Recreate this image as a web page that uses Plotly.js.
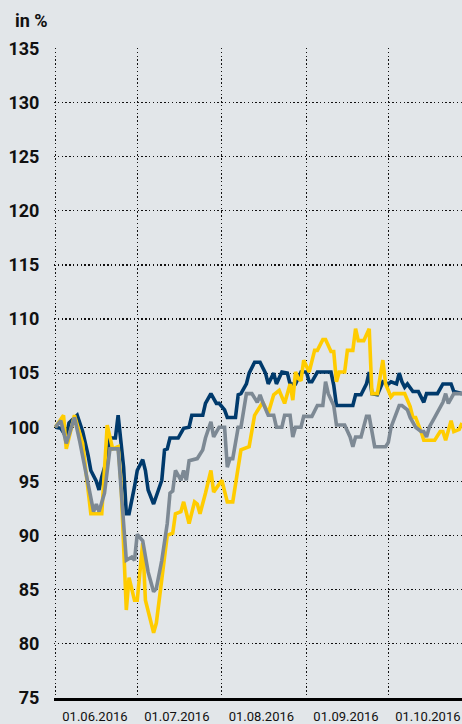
<!DOCTYPE html>
<html>
<head>
<meta charset="utf-8">
<script src="https://cdn.plot.ly/plotly-3.0.1.min.js"></script>
<style>
  html, body { margin: 0; padding: 0; background: #e2e6e9; }
  #chart { width: 462px; height: 724px; }
</style>
</head>
<body>
<div id="chart"></div>
<script>
// values, index 01.06.2016 = 100
var blueDates = ["06-01","06-03","06-05","06-06","06-09","06-11","06-13","06-14","06-16","06-17","06-18","06-20","06-21","06-23","06-24","06-26","06-27","06-28","06-30",
    "07-01","07-03","07-04","07-05","07-07","07-10","07-11","07-12","07-13","07-16","07-18","07-20","07-21","07-25","07-26","07-28","07-30","07-31",
    "08-02","08-03","08-06","08-07","08-08","08-10","08-11","08-13","08-15","08-17","08-18","08-20","08-21","08-23","08-25","08-26","08-28","08-30",
    "09-01","09-02","09-03","09-05","09-10","09-11","09-12","09-18","09-19","09-21","09-23","09-24","09-25","09-27","09-29",
    "10-01","10-02","10-04","10-05","10-06","10-07","10-08","10-10","10-12","10-14","10-15","10-19","10-21","10-24","10-25","10-28"];
var blueValues = [100.0,99.9,99.1,100.4,101.1,99.6,97.4,96.0,95.0,94.2,95.4,97.1,99.0,99.0,101.1,96.3,92.0,92.0,94.5,
    96.0,97.0,96.0,94.2,92.9,95.1,97.9,98.0,99.0,99.0,99.9,100.0,101.1,101.1,102.2,103.1,102.2,102.2,
    101.6,100.9,100.9,103.0,103.1,104.0,105.0,106.0,106.0,105.0,104.0,105.0,104.0,105.1,105.0,104.0,104.0,105.1,
    105.1,104.2,104.2,105.1,105.1,103.9,102.0,102.0,103.0,103.0,104.0,105.1,103.1,103.0,104.2,
    104.0,104.2,104.0,105.0,104.2,103.7,104.0,103.3,103.3,102.3,103.1,103.1,104.0,104.0,103.3,103.1];

var greyDates = ["06-01","06-03","06-05","06-08","06-10","06-12","06-14","06-15","06-16","06-17","06-19","06-21","06-24","06-27","06-29","06-30",
    "07-01","07-03","07-05","07-07","07-08","07-10","07-12","07-13","07-14","07-15","07-17","07-18","07-19","07-20","07-23","07-25","07-26","07-28","07-29","07-31",
    "08-02","08-03","08-04","08-05","08-07","08-08","08-10","08-12","08-14","08-15","08-16","08-18","08-20","08-21","08-23","08-24","08-26","08-27","08-28","08-30","08-31",
    "09-03","09-05","09-07","09-08","09-09","09-11","09-12","09-15","09-17","09-18","09-19","09-21","09-23","09-24","09-25","09-26","09-30",
    "10-01","10-02","10-05","10-06","10-08","10-09","10-11","10-13","10-14","10-15","10-16","10-18","10-20","10-21","10-22","10-23","10-25","10-28"];
var greyValues = [100.0,100.6,98.5,100.9,98.6,96.0,93.4,92.2,92.9,92.2,93.9,98.0,98.0,87.7,88.0,87.7,
    90.1,89.5,86.6,84.8,85.1,87.7,91.1,93.9,94.1,96.0,95.1,96.0,95.1,96.9,97.1,97.9,99.0,100.5,99.1,100.0,
    100.0,96.3,97.1,97.1,100.0,100.0,103.1,103.1,102.3,103.0,102.3,101.1,101.1,100.0,100.0,101.1,101.1,99.1,100.0,100.0,101.0,
    101.0,102.0,102.0,104.2,103.1,102.0,100.2,100.2,99.1,98.2,99.1,99.1,101.0,101.0,99.5,98.2,98.2,
    98.6,100.0,102.0,102.0,101.6,100.9,100.0,99.6,99.6,99.1,100.0,100.9,101.9,102.3,103.1,102.2,103.1,103.1];

var yellowDates = ["06-01","06-04","06-05","06-08","06-11","06-12","06-13","06-14","06-18","06-20","06-22","06-24","06-25","06-27","06-28","06-30",
    "07-01","07-03","07-04","07-05","07-07","07-08","07-10","07-12","07-14","07-15","07-17","07-18","07-20","07-22","07-23","07-24","07-26","07-28","07-29",
    "08-01","08-03","08-05","08-08","08-11","08-13","08-15","08-16","08-18","08-20","08-22","08-24","08-26","08-27","08-28","08-29","08-30","08-31",
    "09-02","09-03","09-04","09-05","09-07","09-08","09-10","09-11","09-12","09-13","09-15","09-16","09-18","09-19","09-20","09-22","09-24","09-25","09-27","09-29","09-30",
    "10-02","10-03","10-07","10-09","10-10","10-11","10-13","10-14","10-15","10-18","10-20","10-21","10-22","10-24","10-25","10-27","10-28"];
var yellowValues = [100.0,101.1,98.0,101.1,98.5,96.3,94.2,92.0,92.0,100.2,98.0,98.2,95.1,83.1,86.1,84.0,
    84.0,89.3,84.0,83.1,81.0,81.9,85.8,90.0,90.2,92.0,92.2,93.1,91.1,93.1,92.9,92.0,93.9,96.0,94.0,
    95.1,93.1,93.1,97.9,98.2,101.1,101.9,102.3,101.3,103.0,103.4,102.2,104.0,102.5,105.1,104.5,104.3,106.2,
    105.1,106.2,107.1,107.1,108.1,108.1,107.0,107.0,104.2,105.1,105.1,107.1,107.1,109.1,108.0,108.0,109.1,103.1,103.1,106.2,104.0,
    102.8,103.1,103.1,101.9,100.9,100.9,99.6,98.8,98.8,98.8,99.6,99.6,98.8,100.6,99.6,99.8,100.4];

var monthStarts = ["2016-06-01", "2016-07-01", "2016-08-01", "2016-09-01", "2016-10-01"];
var monthLabels = ["01.06.2016", "01.07.2016", "01.08.2016", "01.09.2016", "01.10.2016"];
var yTicks = [75, 80, 85, 90, 95, 100, 105, 110, 115, 120, 125, 130, 135];

function fullDates(list) {
    return list.map(function (d) { return "2016-" + d; });
}

// labels sit about half a month after each gridline
var labelPos = monthStarts.map(function (s) {
    var t = new Date(s + "T00:00:00Z").getTime() + 14.5 * 86400000;
    return new Date(t).toISOString().slice(0, 19).replace("T", " ");
});

var grid = "1.4px,2.4px";
var bg = "#e2e6e9";
var xRange = ["2016-05-31 12:00", "2016-10-28"];

var traces = [
    { x: fullDates(greyDates), y: greyValues, type: "scatter", mode: "lines", xaxis: "x2",
      line: { color: "#7d8994", width: 3.6 }, hoverinfo: "skip" },
    { x: fullDates(blueDates), y: blueValues, type: "scatter", mode: "lines",
      line: { color: "#003a6c", width: 3.6 }, hoverinfo: "skip" },
    { x: fullDates(yellowDates), y: yellowValues, type: "scatter", mode: "lines",
      line: { color: "#ffcc00", width: 3.6 }, hoverinfo: "skip" }
];

var layout = {
    width: 462,
    height: 724,
    margin: { l: 54, r: 0, t: 48, b: 26 },
    paper_bgcolor: bg,
    plot_bgcolor: bg,
    showlegend: false,
    font: { family: "Roboto", color: "#111" },
    xaxis: {
        type: "date",
        range: xRange,
        tickvals: monthStarts,
        showticklabels: false,
        showgrid: true,
        gridcolor: "#111",
        gridwidth: 1.2,
        griddash: grid,
        showline: true,
        linecolor: "#000",
        linewidth: 2.5,
        ticks: "",
        zeroline: false
    },
    xaxis2: {
        type: "date",
        overlaying: "x",
        matches: "x",
        side: "bottom",
        anchor: "y",
        range: xRange,
        tickvals: labelPos,
        ticktext: monthLabels,
        ticklabeloverflow: "allow",
        showgrid: false,
        showline: false,
        ticks: "outside",
        ticklen: 6,
        tickcolor: "rgba(0,0,0,0)",
        tickfont: { family: "Roboto", size: 13, color: "#111" },
        zeroline: false
    },
    yaxis: {
        range: [74.97, 135.05],
        tickvals: yTicks,
        showgrid: true,
        gridcolor: "#111",
        gridwidth: 1.2,
        griddash: grid,
        showline: false,
        ticks: "outside",
        ticklen: 10,
        tickcolor: "rgba(0,0,0,0)",
        tickfont: { family: "Roboto", size: 18, weight: "bold", color: "#111" },
        zeroline: false
    },
    annotations: [{
        text: "in %",
        xref: "paper", yref: "paper",
        x: -0.1, y: 1.062,
        xanchor: "left", yanchor: "top",
        showarrow: false,
        font: { family: "Roboto", size: 18, weight: "bold", color: "#111" }
    }]
};

Plotly.newPlot("chart", traces, layout, { displayModeBar: false, staticPlot: true });
</script>
</body>
</html>
